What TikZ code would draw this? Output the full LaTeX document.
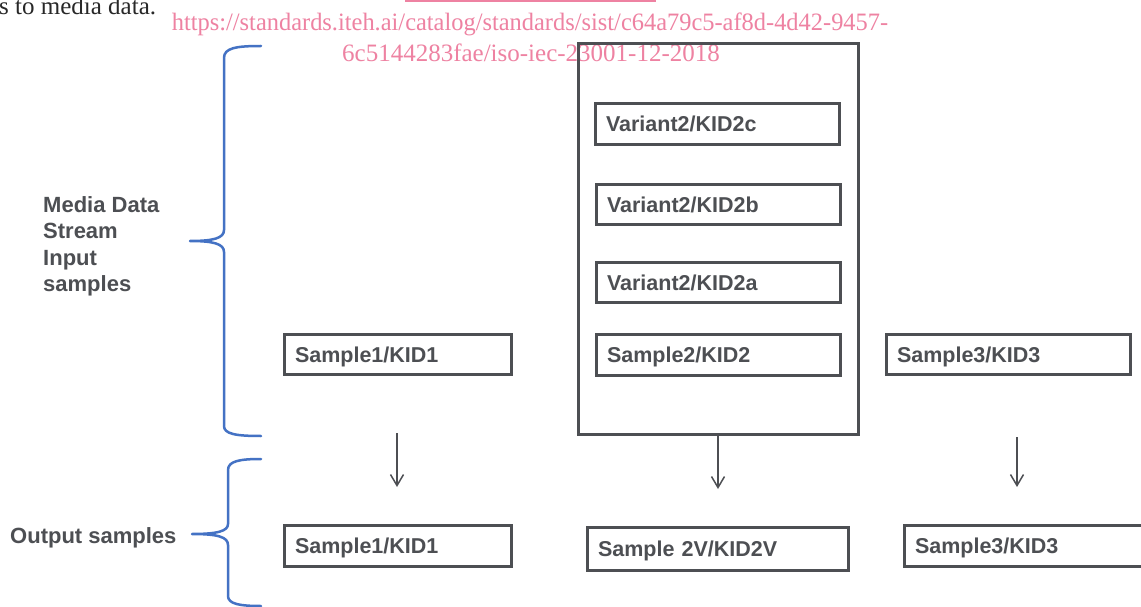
\documentclass[tikz,border=0pt]{standalone}
\usepackage{fontspec}
\setmainfont{Liberation Serif}
\newfontfamily\arialfam{Liberation Sans}
\usetikzlibrary{arrows.meta}
\definecolor{dg}{RGB}{77,79,83}
\definecolor{bl}{RGB}{68,114,196}
\definecolor{wpink}{RGB}{238,130,162}
\definecolor{doctext}{RGB}{40,40,40}
\begin{document}
\begin{tikzpicture}[x=1pt,y=-1pt,
  labelfont/.style={font=\arialfam\bfseries\fontsize{22}{26.5}\selectfont, text=dg},
  boxfont/.style={font=\arialfam\bfseries\fontsize{21.5}{26}\selectfont, text=dg},
  box/.style={draw=dg, line width=3pt, boxfont, align=left, inner xsep=10.5pt, inner ysep=0pt,
    text height=15.5pt, text depth=0pt},
  bigbox/.style={draw=dg, line width=3pt, inner sep=0pt},
  arr/.style={draw=dg, line width=1.5pt, -{Straight Barb[length=11pt,width=13pt]}},
  bracepath/.style={draw=bl, line width=2.5pt, line cap=round, line join=round},
  wm/.style={font=\fontsize{25}{31}\selectfont, text=wpink, inner sep=0pt}
]
\clip (0,0) rectangle (1141,607);
\fill[white] (0,0) rectangle (1141,607);

% document fragments (watermark and preceding text)
\node[font=\fontsize{25}{30}\selectfont, text=doctext, anchor=base west, inner sep=0pt] (doc) at (-1,15) {s to media data.};
\draw[wpink, line width=1.5pt] (405,1) -- (656,1);
\node[wm, anchor=base] (wm1) at (530,31) {\scalebox{0.977}[1]{https://standards.iteh.ai/catalog/standards/sist/c64a79c5-af8d-4d42-9457-}};
\node[wm, anchor=base] (wm2) at (531,62) {6c5144283fae/iso-iec-23001-12-2018};

% big container
\node[bigbox, minimum width=280pt, minimum height=391pt] (big) at (718.5,239) {};

% input boxes
\node[box, minimum width=227pt, minimum height=40pt, text width=206pt] (s1in) at (398,354.5) {Sample1/KID1};
\node[box, minimum width=244pt, minimum height=41pt, text width=223pt] (v2c) at (717.5,124) {Variant2/KID2c};
\node[box, minimum width=244pt, minimum height=40pt, text width=223pt] (v2b) at (718.5,204.5) {Variant2/KID2b};
\node[box, minimum width=244pt, minimum height=40pt, text width=223pt] (v2a) at (718.5,282.5) {Variant2/KID2a};
\node[box, minimum width=244pt, minimum height=41pt, text width=223pt] (s2in) at (718.5,355) {Sample2/KID2};
\node[box, minimum width=244pt, minimum height=40pt, text width=223pt] (s3in) at (1008.5,354.5) {Sample3/KID3};

% output boxes
\node[box, minimum width=227pt, minimum height=41pt, text width=206pt] (s1out) at (398,546) {Sample1/KID1};
\node[box, minimum width=261pt, minimum height=43pt, text width=240pt] (s2out) at (718,549) {Sample 2V/KID2V};
\node[box, minimum width=244pt, minimum height=41pt, text width=223pt] (s3out) at (1026.5,546) {Sample3/KID3};

% arrows
\coordinate (a1s) at (397,433);
\coordinate (a1e) at (397,487);
\coordinate (a2e) at (718,489);
\coordinate (a3s) at (1017,437);
\coordinate (a3e) at (1017,487);
\draw[arr] (a1s) -- (a1e);
\draw[arr] (big.south -| a2e) -- (a2e);
\draw[arr] (a3s) -- (a3e);

% braces
\draw[bracepath] (261,46) .. controls (236,46) and (224,48) .. (224,58)
  -- (224,230) .. controls (224,238) and (214,241) .. (190,241)
  .. controls (214,241) and (224,244) .. (224,252)
  -- (224,426) .. controls (224,434) and (236,436) .. (261,436);
\draw[bracepath] (261,459) .. controls (240,459) and (228,461) .. (228,470)
  -- (228,524) .. controls (228,531) and (218,534) .. (192,534)
  .. controls (218,534) and (228,537) .. (228,545)
  -- (228,596) .. controls (228,604) and (240,606) .. (261,606);

% side labels (base anchor = baseline of the last line)
\node[labelfont, align=left, anchor=base west, inner sep=0pt] (inlabel) at (43,291.5)
  {Media Data\\Stream\\Input\\samples};
\node[labelfont, anchor=base west, inner sep=0pt] (outlabel) at (10,543) {Output samples};
\end{tikzpicture}
\end{document}
